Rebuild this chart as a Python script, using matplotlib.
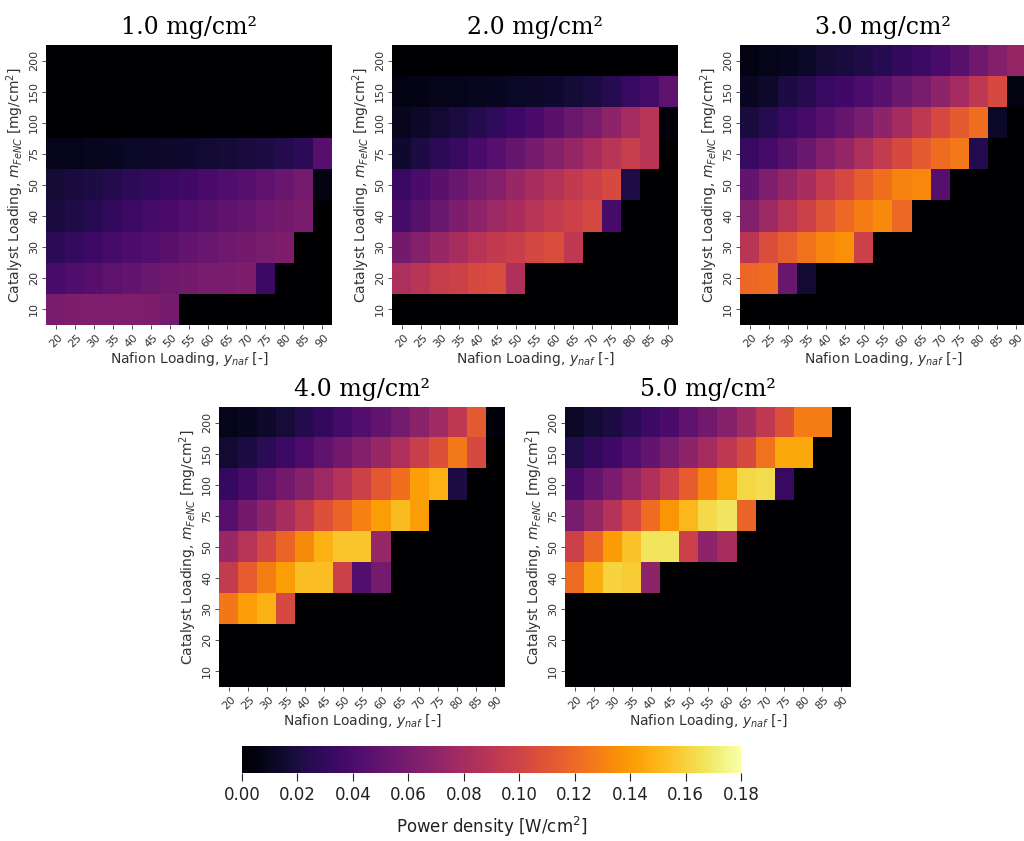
import numpy as np
import matplotlib
matplotlib.use("Agg")
import matplotlib.pyplot as plt

# axis categories
nafion = [20, 25, 30, 35, 40, 45, 50, 55, 60, 65, 70, 75, 80, 85, 90]
catalyst = [200, 150, 100, 75, 50, 40, 30, 20, 10]   # top row first

titles = ["1.0 mg/cm²", "2.0 mg/cm²", "3.0 mg/cm²", "4.0 mg/cm²", "5.0 mg/cm²"]

# power density [W/cm2], rows follow `catalyst`, columns follow `nafion`
pd_1 = [
    [0]*15,
    [0]*15,
    [0]*15,
    [0.008, 0.009, 0.010, 0.011, 0.012, 0.013, 0.014, 0.015, 0.016, 0.017, 0.019, 0.021, 0.024, 0.028, 0.045],
    [0.017, 0.019, 0.021, 0.024, 0.027, 0.030, 0.033, 0.036, 0.039, 0.042, 0.045, 0.049, 0.053, 0.059, 0.005],
    [0.019, 0.022, 0.026, 0.030, 0.034, 0.037, 0.040, 0.043, 0.046, 0.049, 0.052, 0.055, 0.058, 0.061, 0],
    [0.027, 0.031, 0.035, 0.038, 0.041, 0.044, 0.047, 0.050, 0.053, 0.056, 0.058, 0.060, 0.062, 0, 0],
    [0.039, 0.042, 0.045, 0.048, 0.051, 0.054, 0.056, 0.058, 0.060, 0.061, 0.062, 0.034, 0, 0, 0],
    [0.061, 0.062, 0.063, 0.063, 0.063, 0.062, 0.059, 0, 0, 0, 0, 0, 0, 0, 0],
]
pd_2 = [
    [0]*15,
    [0.006, 0.007, 0.008, 0.009, 0.010, 0.011, 0.012, 0.013, 0.015, 0.017, 0.020, 0.025, 0.032, 0.037, 0.048],
    [0.010, 0.013, 0.016, 0.020, 0.024, 0.029, 0.035, 0.040, 0.047, 0.054, 0.061, 0.070, 0.079, 0.088, 0.004],
    [0.015, 0.021, 0.027, 0.033, 0.039, 0.045, 0.052, 0.059, 0.066, 0.073, 0.081, 0.089, 0.096, 0.089, 0],
    [0.033, 0.040, 0.047, 0.053, 0.060, 0.066, 0.074, 0.081, 0.087, 0.093, 0.099, 0.104, 0.022, 0, 0],
    [0.038, 0.046, 0.054, 0.062, 0.069, 0.076, 0.082, 0.088, 0.094, 0.099, 0.103, 0.038, 0, 0, 0],
    [0.058, 0.066, 0.074, 0.081, 0.088, 0.093, 0.097, 0.102, 0.106, 0.092, 0, 0, 0, 0, 0],
    [0.083, 0.089, 0.095, 0.099, 0.104, 0.106, 0.085, 0, 0, 0, 0, 0, 0, 0, 0],
    [0]*15,
]
pd_3 = [
    [0.006, 0.008, 0.010, 0.012, 0.017, 0.019, 0.022, 0.026, 0.030, 0.034, 0.039, 0.046, 0.056, 0.065, 0.073],
    [0.011, 0.014, 0.021, 0.025, 0.032, 0.036, 0.041, 0.047, 0.054, 0.060, 0.069, 0.079, 0.092, 0.104, 0.005],
    [0.019, 0.026, 0.032, 0.038, 0.045, 0.052, 0.060, 0.069, 0.080, 0.092, 0.103, 0.113, 0.122, 0.012, 0],
    [0.032, 0.038, 0.046, 0.054, 0.064, 0.073, 0.083, 0.094, 0.104, 0.113, 0.121, 0.127, 0.024, 0, 0],
    [0.050, 0.063, 0.073, 0.082, 0.094, 0.103, 0.114, 0.123, 0.131, 0.133, 0.045, 0, 0, 0, 0],
    [0.065, 0.076, 0.088, 0.099, 0.110, 0.120, 0.128, 0.134, 0.120, 0, 0, 0, 0, 0, 0],
    [0.089, 0.106, 0.115, 0.124, 0.132, 0.136, 0.098, 0, 0, 0, 0, 0, 0, 0, 0],
    [0.119, 0.121, 0.053, 0.016, 0, 0, 0, 0, 0, 0, 0, 0, 0, 0, 0],
    [0]*15,
]
pd_4 = [
    [0.008, 0.011, 0.014, 0.018, 0.024, 0.030, 0.037, 0.044, 0.051, 0.059, 0.068, 0.078, 0.092, 0.113, 0.004],
    [0.016, 0.021, 0.027, 0.034, 0.041, 0.049, 0.057, 0.065, 0.074, 0.084, 0.096, 0.108, 0.127, 0.104, 0],
    [0.031, 0.039, 0.048, 0.057, 0.066, 0.076, 0.087, 0.099, 0.112, 0.123, 0.142, 0.148, 0.021, 0, 0],
    [0.045, 0.058, 0.069, 0.081, 0.094, 0.108, 0.118, 0.130, 0.141, 0.152, 0.141, 0, 0, 0, 0],
    [0.074, 0.088, 0.102, 0.118, 0.134, 0.148, 0.156, 0.156, 0.074, 0, 0, 0, 0, 0, 0],
    [0.094, 0.114, 0.129, 0.141, 0.153, 0.153, 0.098, 0.044, 0.059, 0, 0, 0, 0, 0, 0],
    [0.126, 0.141, 0.148, 0.104, 0, 0, 0, 0, 0, 0, 0, 0, 0, 0, 0],
    [0]*15,
    [0]*15,
]
pd_5 = [
    [0.012, 0.017, 0.021, 0.027, 0.034, 0.040, 0.049, 0.057, 0.066, 0.078, 0.092, 0.108, 0.128, 0.128, 0],
    [0.023, 0.030, 0.036, 0.043, 0.051, 0.060, 0.070, 0.080, 0.092, 0.104, 0.124, 0.145, 0.145, 0, 0],
    [0.039, 0.051, 0.061, 0.072, 0.085, 0.098, 0.114, 0.132, 0.146, 0.162, 0.164, 0.032, 0, 0, 0],
    [0.060, 0.073, 0.087, 0.103, 0.121, 0.138, 0.151, 0.163, 0.168, 0.118, 0, 0, 0, 0, 0],
    [0.098, 0.119, 0.140, 0.154, 0.167, 0.167, 0.098, 0.069, 0.081, 0, 0, 0, 0, 0, 0],
    [0.121, 0.147, 0.161, 0.158, 0.069, 0, 0, 0, 0, 0, 0, 0, 0, 0, 0],
    [0]*15,
    [0]*15,
    [0]*15,
]
panels = [pd_1, pd_2, pd_3, pd_4, pd_5]

W, H = 1024, 841
fig = plt.figure(figsize=(W/100, H/100), dpi=100)

def box(left, top, w, h):
    # pixel box -> figure fraction
    return [left/W, 1 - (top + h)/H, w/W, h/H]

boxes = [box(46, 45, 286, 280), box(392, 45, 286, 280), box(740, 45, 286, 280),
         box(219, 407, 286, 280), box(565, 407, 286, 280)]

for data, title, b in zip(panels, titles, boxes):
    ax = fig.add_axes(b)
    im = ax.imshow(np.array(data), cmap="inferno", vmin=0, vmax=0.18,
                   aspect="auto", interpolation="nearest")
    ax.set_xticks(range(len(nafion)))
    ax.set_xticklabels(nafion, rotation=45, fontsize=8)
    ax.set_yticks(range(len(catalyst)))
    ax.set_yticklabels(catalyst, rotation=90, va="center", fontsize=8)
    ax.tick_params(length=3, width=0.6, pad=2, colors="#333333")
    for s in ax.spines.values():
        s.set_visible(False)
    ax.set_xlabel("Nafion Loading, $y_{naf}$ [-]", fontsize=10, labelpad=1, color="#333333")
    ax.set_ylabel("Catalyst Loading, $m_{FeNC}$ [mg/cm$^2$]", fontsize=10, labelpad=2, color="#333333")
    ax.set_title(title, fontsize=17, family="DejaVu Serif", pad=8)

cax = fig.add_axes(box(242, 746, 499, 27))
cb = fig.colorbar(im, cax=cax, orientation="horizontal")
cb.set_ticks([0, 0.02, 0.04, 0.06, 0.08, 0.10, 0.12, 0.14, 0.16, 0.18])
cb.ax.tick_params(labelsize=12, length=6, colors="#222222")
cb.outline.set_visible(False)
cb.set_label("Power density [W/cm$^2$]", fontsize=12, labelpad=8, color="#222222")

fig.savefig("out.png", dpi=100)
